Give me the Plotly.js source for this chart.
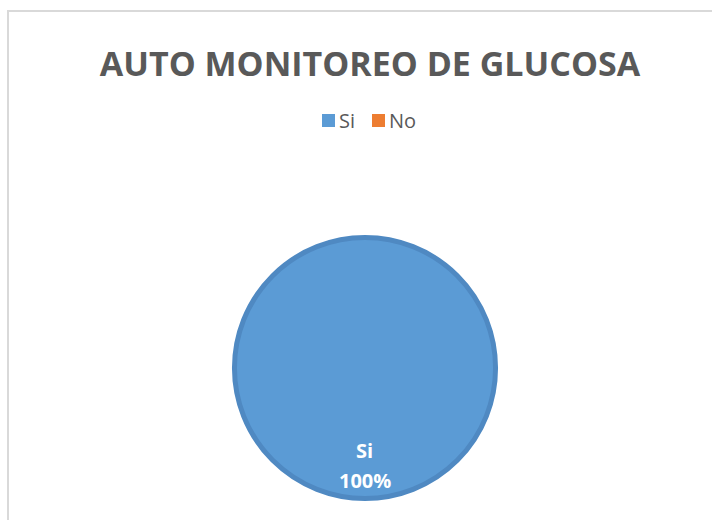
<!DOCTYPE html>
<html>
<head>
<meta charset="utf-8">
<script src="https://cdn.plot.ly/plotly-3.0.1.min.js"></script>
<style>
html,body{margin:0;padding:0;background:#fff;}
#chart{width:712px;height:520px;}
</style>
</head>
<body>
<div id="chart"></div>
<script>
const chartTitle = "AUTO MONITOREO DE GLUCOSA";
const labels = ["Si", "No"];
const values = [100, 0];
const colors = ["#5B9BD5", "#ED7D31"];

const W = 712, H = 520;
const cx = 365, cy = 368, r = 130.5;
const total = values.reduce((a, b) => a + b, 0);
const pct = Math.round(values[0] / total * 100);

const trace = {
  type: "pie",
  labels: labels,
  values: values,
  sort: false,
  direction: "clockwise",
  marker: { colors: colors, line: { color: "#4F89C2", width: values.map(v => v > 0 ? 5 : 0) } },
  textinfo: "none",
  hoverinfo: "label+percent",
  domain: {
    x: [(cx - r) / W, (cx + r) / W],
    y: [1 - (cy + r) / H, 1 - (cy - r) / H]
  },
  showlegend: false
};

// manual legend built from labels/colors
const legendX = [322, 372];   // left edge of each swatch (px)
const legendY = 120.5;        // vertical centre (px)
const sw = 13;
const shapes = [{
  type: "rect", xref: "paper", yref: "paper", layer: "below",
  x0: 8 / W, x1: 1.05, y0: -0.05, y1: 1 - 11 / H,
  line: { color: "#D9D9D9", width: 2 }, fillcolor: "rgba(0,0,0,0)"
}];
const annotations = [];
labels.forEach((lab, i) => {
  shapes.push({
    type: "rect", xref: "paper", yref: "paper",
    x0: legendX[i] / W, x1: (legendX[i] + sw) / W,
    y0: 1 - (legendY + sw / 2) / H, y1: 1 - (legendY - sw / 2) / H,
    line: { width: 0 }, fillcolor: colors[i]
  });
  annotations.push({
    xref: "paper", yref: "paper",
    x: (legendX[i] + sw + 2) / W, y: 1 - legendY / H,
    xanchor: "left", yanchor: "middle",
    text: lab, showarrow: false,
    font: { size: 20, color: "#595959", family: "Open Sans, sans-serif" }
  });
});
annotations.push({
  xref: "paper", yref: "paper",
  x: cx / W, y: 1 - 450 / H,
  xanchor: "center", yanchor: "middle",
  text: "<b>" + labels[0] + "</b>", showarrow: false,
  font: { size: 20, color: "#ffffff", family: "Open Sans, sans-serif" }
});
annotations.push({
  xref: "paper", yref: "paper",
  x: cx / W, y: 1 - 480 / H,
  xanchor: "center", yanchor: "middle",
  text: "<b>" + pct + "%</b>", showarrow: false,
  font: { size: 20, color: "#ffffff", family: "Open Sans, sans-serif" }
});

const layout = {
  width: W, height: H,
  margin: { l: 0, r: 0, t: 0, b: 0 },
  paper_bgcolor: "#ffffff",
  showlegend: false,
  font: { family: "Open Sans, Noto Sans, sans-serif", color: "#595959" },
  title: {
    text: "<b>" + chartTitle + "</b>",
    font: { size: 34, color: "#595959", family: "Open Sans, sans-serif" },
    x: 370 / W, xanchor: "center",
    y: 1 - 64.5 / H, yanchor: "middle", yref: "paper"
  },
  shapes: shapes,
  annotations: annotations
};

Plotly.newPlot("chart", [trace], layout, { displayModeBar: false, staticPlot: true });
</script>
</body>
</html>
